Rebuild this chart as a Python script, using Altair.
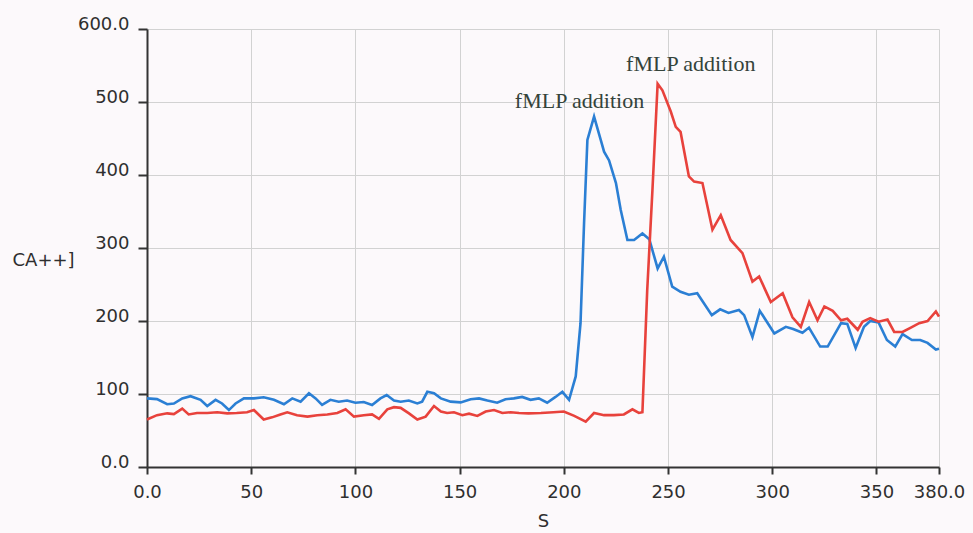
import altair as alt
import pandas as pd

# Blue trace (first fMLP addition)
blue_t = [0, 4.8, 9.7, 12.9, 16.9, 20.9, 25.7, 28.9, 32.9, 36, 39.3, 42.5, 46.5, 51.3, 56, 60.9,
          65.7, 69.7, 73.7, 77.7, 80.9, 84, 88, 92, 96, 100, 104, 108, 112, 115, 118.5, 121.7,
          125.6, 129.7, 132, 134.5, 137.7, 141, 145.7, 150.5, 155.3, 159.3, 163.3, 168, 172, 176,
          180, 184, 188, 192, 196, 199.3, 202.5, 205.7, 208, 209.7, 211.3, 214.5, 217.7, 219.3,
          221.7, 225, 227.3, 230.5, 233.7, 237.7, 241, 245, 248, 252, 256, 260, 264, 271, 275,
          279, 284, 286.5, 290.5, 294, 301, 306.5, 310, 314.5, 317.6, 323, 326.6, 333, 336, 340,
          344, 347, 351, 355, 359, 362.5, 367, 371, 374.5, 378.5, 380]
blue_v = [94, 93, 86, 87, 94, 97, 92, 83.5, 92, 87, 78, 87, 94, 94, 95.5, 92,
          86, 94, 89.5, 101, 94, 85, 92, 89.5, 91, 88, 89, 85, 94, 98.6, 91, 89.5,
          91, 87, 89.5, 103, 101, 94, 89.5, 88.5, 92.7, 94, 91, 88, 92.7, 94,
          96, 92, 94, 88, 96, 103, 92, 124, 197, 334, 448, 480, 448, 432,
          420, 389, 352, 311, 311, 320, 312, 272, 288, 247, 240, 236, 238, 208, 216,
          211, 215, 208, 178, 214, 183, 192, 189, 184, 191, 165, 165, 197, 196, 163,
          192, 200, 198, 174, 165, 182, 174, 174, 170, 161, 162]

# Red trace (second fMLP addition)
red_t = [0, 4.8, 9.7, 12.9, 16.9, 20, 24, 28.9, 33.7, 38.5, 43, 48, 51.3, 56, 60, 64, 67.3,
         72, 77, 81.7, 86.5, 91.3, 95.3, 99.3, 104, 108, 111.3, 115.3, 118.5, 121.7, 125.7,
         129.7, 133.7, 137.7, 141, 144, 147.3, 151.3, 154.5, 158.5, 162.5, 166.5, 170.5,
         174.5, 178.5, 183, 189, 195, 200, 205, 210.5, 214.5, 219.3, 224, 228.8, 232.9, 236,
         237.7, 240, 242.5, 245, 247.3, 251.3, 253.7, 256, 260, 262.5, 266.5, 271.3, 275.3,
         280, 285.7, 290.5, 293.7, 299.3, 305, 309.7, 313.7, 317.7, 321.7, 325, 329, 333, 336,
         341, 343.3, 347, 351, 355.3, 358.5, 362.5, 366.5, 370.5, 374.5, 378.5, 380]
red_v = [65, 71, 73.5, 72.5, 80, 72, 74, 74, 75, 73.5, 74, 75, 78, 65, 68, 72, 75,
         71, 69, 71, 72, 74, 79, 69, 71, 72, 66, 79, 82, 81, 73.5,
         65, 69, 83.5, 76, 74, 75, 71, 73, 70, 76, 78, 74,
         75, 74, 73.5, 74, 75, 76, 70, 62, 74, 71, 71, 72, 79, 74,
         75, 242, 379, 525, 516, 487, 466, 459, 398, 391, 389, 325, 345,
         311, 293, 254, 261, 226, 238, 205, 192, 226, 201, 220, 214, 201, 203,
         188, 199, 204, 199, 202, 185, 185, 191, 197, 200, 213, 206]

# Annotations
note_t = [207.5, 260.9]
note_v = [491.8, 541.8]
note_text = ["fMLP addition", "fMLP addition"]

x_ticks = [0, 50, 100, 150, 200, 250, 300, 350, 380]
y_ticks = [0, 100, 200, 300, 400, 500, 600]

blue_df = pd.DataFrame({"t": blue_t, "v": blue_v})
red_df = pd.DataFrame({"t": red_t, "v": red_v})
note_df = pd.DataFrame({"t": note_t, "v": note_v, "label": note_text})

FONT = "DejaVu Sans"
TXT = "#2f2f2f"

x_enc = alt.X(
    "t:Q",
    scale=alt.Scale(domain=[0, 380], nice=False, zero=False),
    axis=alt.Axis(
        values=x_ticks,
        labelExpr="datum.value == 0 || datum.value == 380 ? format(datum.value, '.1f') : datum.value",
        title="S",
        titleFont=FONT, titleFontSize=18, titleFontWeight="normal", titleColor=TXT,
        titleY=54, titleBaseline="middle",
        labelFont=FONT, labelFontSize=18, labelColor=TXT, labelPadding=9,
        labelFlush=False, labelOverlap=False,
        tickSize=7, tickWidth=2, tickColor="#333333",
        domainColor="#333333", domainWidth=2,
        grid=True, gridColor="#d2d2d2", gridWidth=1,
    ),
)
y_enc = alt.Y(
    "v:Q",
    scale=alt.Scale(domain=[0, 600], nice=False),
    axis=alt.Axis(
        values=y_ticks,
        labelExpr="datum.value == 0 || datum.value == 600 ? format(datum.value, '.1f') : datum.value",
        title="CA++]",
        titleFont=FONT, titleFontSize=18, titleFontWeight="normal", titleColor=TXT,
        titleAngle=0, titleAlign="left", titleBaseline="middle",
        titleX=-135, titleY=231,
        labelFont=FONT, labelFontSize=18, labelColor=TXT, labelPadding=9,
        labelBaseline="alphabetic", labelFlush=False, labelOverlap=False,
        tickSize=9, tickWidth=2, tickColor="#333333",
        domainColor="#333333", domainWidth=2,
        grid=True, gridColor="#d2d2d2", gridWidth=1,
    ),
)

blue = alt.Chart(blue_df).mark_line(color="#2b7fd4", strokeWidth=2.6).encode(x=x_enc, y=y_enc)
red = alt.Chart(red_df).mark_line(color="#e8423c", strokeWidth=2.6).encode(x="t:Q", y="v:Q")
notes = alt.Chart(note_df).mark_text(
    font="Liberation Serif", fontSize=22, color="#34433a", align="center", baseline="alphabetic"
).encode(x="t:Q", y="v:Q", text="label:N")

chart = alt.layer(blue, red, notes).properties(
    width=792,
    height=438,
    padding={"left": 147, "top": 29, "right": 34, "bottom": 66},
    autosize=alt.AutoSizeParams(type="none"),
    background="#fcf9fb",
).configure_view(stroke=None)

chart.save("out.html", embed_options={"renderer": "svg", "actions": False})
